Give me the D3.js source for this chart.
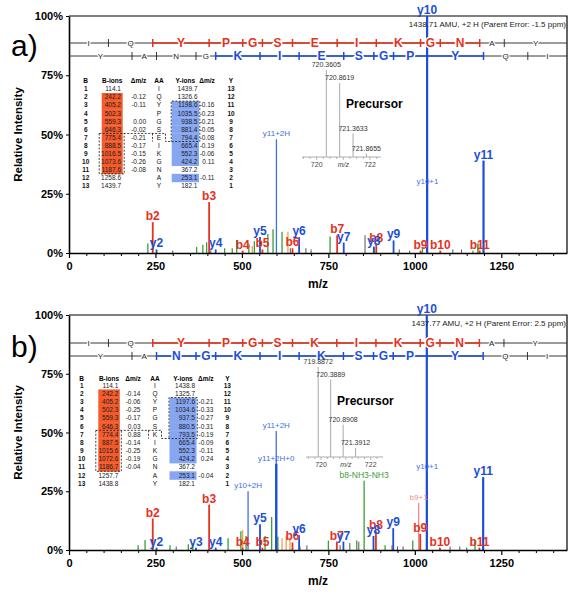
<!DOCTYPE html>
<html><head><meta charset="utf-8">
<script src="https://cdn.jsdelivr.net/npm/d3@7/dist/d3.min.js"></script>
<style>
body{margin:0;background:#fff;}
svg{display:block;font-family:"Liberation Sans",Arial,Helvetica,sans-serif;}
</style></head><body>
<svg id="chart" width="578" height="600"></svg>
<script>
// ===== shared axis data =====
const xTickValues = [0, 250, 500, 750, 1000, 1250];
const xMinorTickValues = [50,100,150,200,300,350,400,450,550,600,650,700,800,850,900,950,1050,1100,1150,1200,1300,1350,1400];
const yTickValues = [0, 25, 50, 75, 100];
const yTickLabels = ["0%", "25%", "50%", "75%", "100%"];
const tableHeaders = ["B", "B-ions", "Δm/z", "AA", "Y-ions", "Δm/z", "Y"];

// ===== panel a) =====
const seqA = ["I","Q","Y","P","G","S","E","I","K","G","N","A","Y"];
const bIonsA = [114.1,242.2,405.2,502.3,559.3,646.3,775.4,888.5,1016.5,1073.6,1187.6,1258.6,1439.7];
const bDeltaA = ["","-0.12","-0.11","","0.00","-0.02","-0.21","-0.17","-0.15","-0.26","-0.08","",""];
const yIonsA = [1439.7,1326.6,1198.6,1035.5,938.5,881.4,794.4,665.4,552.3,424.2,367.2,253.1,182.1];
const yDeltaA = ["","","-0.16","-0.23","-0.21","-0.05","-0.08","-0.19","-0.06","0.11","","-0.11",""];
const bFoundA = [0,1,1,1,1,1,1,1,1,1,1,0,0];
const yFoundA = [0,0,1,1,1,1,1,1,1,1,0,1,0];
const bCoverA = [2, 11];   // b-ion numbers spanned in red
const yCoverA = [4, 11];   // y-ion numbers spanned in blue
const ionPeaksA = [["b2",242.2,13],["b3",405.2,21.5],["b4",502.3,1],["b5",559.3,1.5],["b6",646.3,2],["b7",775.4,7.5],["b8",888.5,4],["b9",1016.5,1],["b10",1073.6,1],["b11",1187.6,1],
  ["y2",253.1,1.5],["y4",424.2,1.5],["y5",552.3,6.7],["y6",665.4,6.7],["y7",794.4,4.4],["y8",881.4,2.7],["y9",938.5,5.3],["y10",1035.5,100],["y11",1198.6,39]];
const annotPeaksA = [["y11+2H",599.8,48,"iso"],["y10+1",1036.5,28,"iso"]];
const greenPeaksA = [[228,4],[369,2.5],[387,3.5],[398,4.5],[450,2],[472,2],[485,5.5],[520,4],[536,5],[575,8],[590,10],[616,9],[755,7],[882,2],[1022,2],[1182,4]];
const orangePeaksA = [[530,3],[633,9],[1185,4]];
const greyPeaksA = [[300,1],[410,1],[640,2],[685,2],[700,1.5],[856,7.5],[955,1.5],[985,1],[1110,1.5],[1135,1.5],[1168,1]];
const precMzA = [720.3605,720.8619,721.3633,721.8655];
const precIntA = [100,85,27,4];
const headerA = "1438.71 AMU, +2 H (Parent Error: -1.5 ppm)";

// ===== panel b) =====
const seqB = ["I","Q","Y","P","G","S","K","I","K","G","N","A","Y"];
const bIonsB = [114.1,242.2,405.2,502.3,559.3,646.3,774.4,887.5,1015.6,1072.6,1186.7,1257.7,1438.8];
const bDeltaB = ["","-0.14","-0.06","-0.25","-0.17","0.03","0.88","-0.14","-0.25","-0.19","-0.04","",""];
const yIonsB = [1438.8,1325.7,1197.6,1034.6,937.5,880.5,793.5,665.4,552.3,424.2,367.2,253.1,182.1];
const yDeltaB = ["","","-0.21","-0.33","-0.27","-0.31","-0.19","-0.09","-0.11","0.24","","-0.04",""];
const bFoundB = [0,1,1,1,1,1,1,1,1,1,1,0,0];
const yFoundB = [0,0,1,1,1,1,1,1,1,1,0,1,0];
const bCoverB = [2, 11];
const yCoverB = [2, 11];
const ionPeaksB = [["b2",242.2,13.4],["b3",405.2,19.3],["b4",502.3,1],["b5",559.3,1],["b6",646.3,3.2],["b7",774.4,3.6],["b8",887.5,8],["b9",1015.6,6.8],["b10",1072.6,1],["b11",1186.7,1],
  ["y2",253.1,1],["y3",367.2,1],["y4",424.2,1],["y5",552.3,11],["y6",665.4,6.3],["y7",793.5,3.6],["y8",880.5,6],["y9",937.5,9.3],["y10",1034.6,100],["y11",1197.6,31]];
const annotPeaksB = [["y11+2H",599.3,50.6,"iso"],["y11+2H+0",599.3,36.7,"iso2"],["y10+2H",517.8,25,"iso"],["y10+1",1035.6,33,"iso"],["b8-NH3-NH3",853.4,29.5,"loss"],["b9+1",1011,20,"pink"]];
const greenPeaksB = [[200,2],[220,4.3],[292,2],[345,2.5],[358,3],[460,5],[497,8],[512,6],[567,6],[586,14],[604,5.6],[750,4],[832,4],[914,2],[994,4],[1174,4]];
const orangePeaksB = [[502,8.5],[616,5],[628,6],[639,5]];
const greyPeaksB = [[310,1.5],[668,1.5],[688,2],[784,2],[812,3],[838,3.5],[934,2],[950,1.5],[966,1.5],[1102,1.5],[1130,1.5],[1150,1]];
const precMzB = [719.8872,720.3889,720.8908,721.3912];
const precIntB = [100,86,36,10];
const headerB = "1437.77 AMU, +2 H (Parent Error: 2.5 ppm)";

// ===== styles =====
const RED="#e5321c", BLUE="#1c4fd6", LBLUE="#3f70e2", GREEN="#3a9e38", ORANGE="#f0a050", PINK="#f48a8a";
const HIRED="#f45a2b", HIBLUE="#86a6f2";

const svg = d3.select("#chart");
const x = d3.scaleLinear().domain([0, 1440]).range([69, 567]);

const panels = [
  {letter:"a)", letterY:56, top:16, base:253, seqY:[43,56], headerY:27,
   seq:seqA, bIons:bIonsA, bDelta:bDeltaA, yIons:yIonsA, yDelta:yDeltaA, bFound:bFoundA, yFound:yFoundA,
   bCover:bCoverA, yCover:yCoverA, ions:ionPeaksA, annots:annotPeaksA, green:greenPeaksA, orange:orangePeaksA, grey:greyPeaksA,
   precMz:precMzA, precInt:precIntA, header:headerA,
   T:{cB:85.7,bR:121,dbR:146,cAA:159,yR:197.5,dyR:214.5,cY:231,hiB:[101.7,122.7],hiY:[171.7,199],hdr:80.7,row1:89,pitch:8.08},
   I:{x720:316.7,x722:370,base:157,top:70,lo:719.45,hi:722.4,precX:346,precY:104}},
  {letter:"b)", letterY:357, top:315, base:550, seqY:[343,356], headerY:326,
   seq:seqB, bIons:bIonsB, bDelta:bDeltaB, yIons:yIonsB, yDelta:yDeltaB, bFound:bFoundB, yFound:yFoundB,
   bCover:bCoverB, yCover:yCoverB, ions:ionPeaksB, annots:annotPeaksB, green:greenPeaksB, orange:orangePeaksB, grey:greyPeaksB,
   precMz:precMzB, precInt:precIntB, header:headerB,
   T:{cB:81.7,bR:118.3,dbR:140.5,cAA:155,yR:195,dyR:213.3,cY:227.3,hiB:[98.3,119.8],hiY:[169.5,196.5],hdr:378.3,row1:385.3,pitch:8.19},
   I:{x720:321,x722:370.7,base:457,top:367,lo:719.4,hi:722.5,precX:337,precY:401}}
];

panels.forEach(drawPanel);

function drawPanel(P){
  const g = svg.append("g");
  const y = d3.scaleLinear().domain([0,100]).range([P.base, P.top]);

  // frame (top + right)
  g.append("path").attr("d",`M${x(0)},${P.top}H${x(1440)}V${P.base}`)
    .attr("fill","none").attr("stroke","#000").attr("stroke-width",1.2);

  // unlabeled peaks
  const lines=(arr,color,w)=>g.append("g").selectAll("line").data(arr).join("line")
    .attr("x1",d=>x(d[0])).attr("x2",d=>x(d[0])).attr("y1",P.base).attr("y2",d=>y(d[1]))
    .attr("stroke",color).attr("stroke-width",w);
  lines(P.grey,"#555",1);
  lines(P.orange,ORANGE,1.3);
  lines(P.green,GREEN,1.3);

  // annotated peaks
  const annColor = k => k==="loss"?GREEN:(k==="pink"?PINK:LBLUE);
  g.append("g").selectAll("line").data(P.annots).join("line")
    .attr("x1",d=>x(d[1])).attr("x2",d=>x(d[1])).attr("y1",P.base).attr("y2",d=>y(d[2]))
    .attr("stroke",d=>d[3]==="iso2"?BLUE:annColor(d[3])).attr("stroke-width",d=>d[3]==="iso2"?2.4:1.3);

  // ion peaks
  const ionColor = n => n[0]==="b"?RED:BLUE;
  g.append("g").selectAll("line").data(P.ions).join("line")
    .attr("x1",d=>x(d[1])).attr("x2",d=>x(d[1])).attr("y1",P.base).attr("y2",d=>y(d[2]))
    .attr("stroke",d=>ionColor(d[0])).attr("stroke-width",d=>d[2]>30?2.2:1.8);

  // axes
  const ax = g.append("g").attr("transform",`translate(0,${P.base})`)
    .call(d3.axisBottom(x).tickValues(xTickValues).tickSize(5).tickSizeOuter(0).tickPadding(4).tickFormat(d3.format("d")));
  ax.select(".domain").attr("stroke-width",1.6);
  ax.selectAll(".tick line").attr("stroke-width",1.2);
  ax.selectAll("text").attr("font-size",11).attr("font-weight","bold").attr("fill","#000");
  const axm = g.append("g").attr("transform",`translate(0,${P.base})`)
    .call(d3.axisBottom(x).tickValues(xMinorTickValues).tickSize(3).tickFormat(""));
  axm.select(".domain").remove();
  const ay = g.append("g").attr("transform",`translate(${x(0)},0)`)
    .call(d3.axisLeft(y).tickValues(yTickValues).tickSize(3).tickSizeOuter(0).tickPadding(3).tickFormat((d,i)=>yTickLabels[i]));
  ay.select(".domain").attr("stroke-width",1.6);
  ay.selectAll("text").attr("font-size",11).attr("font-weight","bold").attr("fill","#000");

  // axis titles
  g.append("text").attr("x",318).attr("y",P.base+35).attr("text-anchor","middle")
    .attr("font-size",12).attr("font-weight","bold").text("m/z");
  g.append("text").attr("transform",`translate(22,${(P.top+P.base)/2}) rotate(-90)`).attr("text-anchor","middle")
    .attr("font-size",11.5).attr("font-weight","bold").text("Relative Intensity");
  g.append("text").attr("x",11).attr("y",P.letterY).attr("font-size",30).text(P.letter);

  // ion labels
  g.append("g").selectAll("text").data(P.ions).join("text")
    .attr("x",d=>x(d[1])).attr("y",d=>y(d[2])-2).attr("text-anchor","middle")
    .attr("font-size",12).attr("font-weight","bold").attr("fill",d=>ionColor(d[0])).text(d=>d[0]);
  g.append("g").selectAll("text").data(P.annots).join("text")
    .attr("x",d=>x(d[1])).attr("y",d=>y(d[2])-3).attr("text-anchor","middle")
    .attr("font-size",d=>d[3]==="loss"?8.5:8).attr("fill",d=>annColor(d[3])).text(d=>d[0]);

  // header text
  g.append("text").attr("x",566).attr("y",P.headerY).attr("text-anchor","end").attr("font-size",8).attr("fill","#222").text(P.header);

  drawSequence(g,P);
  drawTable(g,P);
  drawInset(g,P);
}

function drawSequence(g,P){
  const n = P.seq.length;
  const rows = [
    {yy:P.seqY[0], pos:[0,...P.bIons], letters:P.seq, cover:P.bCover, color:RED},
    {yy:P.seqY[1], pos:[0,...P.yIons.slice().reverse()], letters:P.seq.slice().reverse(), cover:P.yCover, color:BLUE}
  ];
  rows.forEach(R=>{
    g.append("line").attr("x1",x(0)).attr("x2",x(1440)).attr("y1",R.yy).attr("y2",R.yy).attr("stroke","#222").attr("stroke-width",0.9);
    g.append("line").attr("x1",x(R.pos[R.cover[0]])).attr("x2",x(R.pos[R.cover[1]])).attr("y1",R.yy).attr("y2",R.yy)
      .attr("stroke",R.color).attr("stroke-width",1.6);
    const ticks = d3.range(1,n);
    g.append("g").selectAll("line").data(ticks).join("line")
      .attr("x1",k=>x(R.pos[k])).attr("x2",k=>x(R.pos[k])).attr("y1",R.yy-4).attr("y2",R.yy+4)
      .attr("stroke",k=>(k>=R.cover[0]&&k<=R.cover[1])?R.color:"#222").attr("stroke-width",k=>(k>=R.cover[0]&&k<=R.cover[1])?1.5:0.9);
    const idx = d3.range(0,n);
    const on = k => k>=R.cover[0] && k+1<=R.cover[1];
    g.append("g").selectAll("text").data(idx).join("text")
      .attr("x",k=>x((R.pos[k]+R.pos[k+1])/2)).attr("y",R.yy).attr("dy",k=>on(k)?"0.36em":"0.35em")
      .attr("text-anchor","middle")
      .attr("font-size",k=>on(k)?12:8).attr("font-weight",k=>on(k)?"bold":"normal")
      .attr("fill",k=>on(k)?R.color:"#222")
      .attr("stroke","#fff").attr("stroke-width",k=>on(k)?3:2.5).attr("paint-order","stroke")
      .text(k=>R.letters[k]);
  });
}

function drawTable(g,P){
  const T = P.T, n = P.seq.length;
  const rowY = i => T.row1 + i*T.pitch;
  const tg = g.append("g").attr("font-size",6.5);
  tg.append("g").selectAll("rect").data(d3.range(n).filter(i=>P.bFound[i])).join("rect")
    .attr("x",T.hiB[0]).attr("width",T.hiB[1]-T.hiB[0]).attr("y",i=>rowY(i)-T.pitch/2).attr("height",T.pitch+0.3).attr("fill",HIRED);
  tg.append("g").selectAll("rect").data(d3.range(n).filter(i=>P.yFound[i])).join("rect")
    .attr("x",T.hiY[0]).attr("width",T.hiY[1]-T.hiY[0]).attr("y",i=>rowY(i)-T.pitch/2).attr("height",T.pitch+0.3).attr("fill",HIBLUE);
  const hx = [T.cB,(T.hiB[0]+T.hiB[1])/2,T.dbR-7.5,T.cAA,(T.hiY[0]+T.hiY[1])/2,T.dyR-7.5,T.cY];
  tg.append("g").selectAll("text").data(tableHeaders).join("text")
    .attr("x",(d,i)=>hx[i]).attr("y",T.hdr).attr("dy","0.35em").attr("text-anchor","middle")
    .attr("font-weight","bold").text(d=>d);
  const idx = d3.range(n);
  const col = (fn,xx,anchor,bold,fill)=>tg.append("g").selectAll("text").data(idx).join("text")
    .attr("x",xx).attr("y",i=>rowY(i)).attr("dy","0.35em").attr("text-anchor",anchor)
    .attr("font-weight",bold?"bold":"normal").attr("fill",fill||"#111").text(fn);
  col(i=>i+1, T.cB, "middle", true);
  col(i=>P.bIons[i].toFixed(1), T.bR, "end", false, "#222");
  col(i=>P.bDelta[i], T.dbR, "end", false, "#222");
  col(i=>P.seq[i], T.cAA, "middle", false, "#111");
  col(i=>P.yIons[i].toFixed(1), T.yR, "end", false, "#222");
  col(i=>P.yDelta[i], T.dyR, "end", false, "#222");
  col(i=>n-i, T.cY, "middle", true);
  const top = r => rowY(r-1)-T.pitch/2, bot = r => rowY(r-1)+T.pitch/2;
  const bL=T.hiB[0]-2.5, bRt=T.hiB[1]+1.5, aL=T.cAA-6.5, aR=T.cAA+6.5, yL=T.hiY[0]-0.5, yRt=T.hiY[1]+0.8;
  const d = `M${bL},${top(7)}H${aR}V${bot(7)}H${yRt}V${top(3)}H${yL}V${bot(7)}`+
            `M${aL},${top(7)}V${bot(7)}`+
            `M${bL},${top(7)}V${bot(11)}H${bRt}V${top(7)}`;
  tg.append("path").attr("d",d).attr("fill","none").attr("stroke","#111").attr("stroke-width",0.8).attr("stroke-dasharray","2,1.5");
}

function drawInset(g,P){
  const I = P.I;
  const xi = d3.scaleLinear().domain([720,722]).range([I.x720,I.x722]);
  const yi = d3.scaleLinear().domain([0,100]).range([I.base,I.top]);
  const ig = g.append("g");
  ig.append("line").attr("x1",xi(I.lo)).attr("x2",xi(I.hi)).attr("y1",I.base).attr("y2",I.base).attr("stroke","#999").attr("stroke-width",0.8);
  const minor = [719.5,719.75,720,720.25,720.5,720.75,721,721.25,721.5,721.75,722,722.25].filter(v=>v>=I.lo&&v<=I.hi);
  ig.selectAll(".mt").data(minor).join("line").attr("x1",d=>xi(d)).attr("x2",d=>xi(d))
    .attr("y1",I.base).attr("y2",d=>I.base+(d%1===0?3:2)).attr("stroke","#999").attr("stroke-width",0.7);
  ig.append("g").selectAll("text").data([["720",720,"normal"],["m/z",721,"italic"],["722",722,"normal"]]).join("text")
    .attr("x",d=>xi(d[1])).attr("y",I.base+10).attr("text-anchor","middle").attr("font-size",7).attr("font-style",d=>d[2]).attr("fill","#444").text(d=>d[0]);
  const pk = d3.range(P.precMz.length);
  ig.append("g").selectAll("line").data(pk).join("line")
    .attr("x1",i=>xi(P.precMz[i])).attr("x2",i=>xi(P.precMz[i])).attr("y1",I.base).attr("y2",i=>yi(P.precInt[i]))
    .attr("stroke","#aaa").attr("stroke-width",1);
  ig.append("g").selectAll("text").data(pk).join("text")
    .attr("x",i=>xi(P.precMz[i])).attr("y",i=>yi(P.precInt[i])-3).attr("text-anchor","middle")
    .attr("font-size",7).attr("fill","#333").text(i=>P.precMz[i].toFixed(4));
  ig.append("text").attr("x",I.precX).attr("y",I.precY).attr("dy","0.35em").attr("font-size",12).attr("font-weight","bold").text("Precursor");
}
</script>
</body></html>
